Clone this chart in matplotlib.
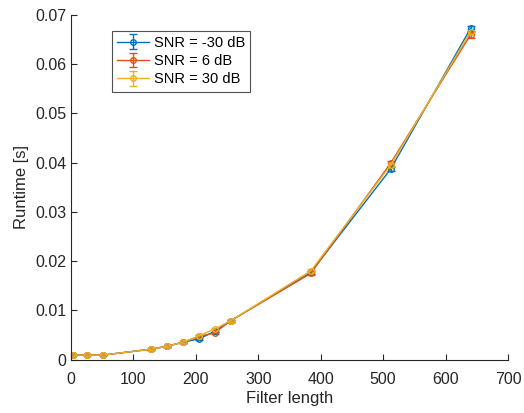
import matplotlib
matplotlib.use('Agg')

import numpy as np
import matplotlib.pyplot as plt

plt.rcParams['font.family'] = ['Liberation Sans', 'DejaVu Sans']

filter_length = [4, 26, 51, 128, 154, 179, 205, 230, 256, 384, 512, 640]

runtime_m30 = [0.0009, 0.0009, 0.0009, 0.0021, 0.0027, 0.0035, 0.0042, 0.0057,
               0.0079, 0.0177, 0.0387, 0.0673]
runtime_6 = [0.0009, 0.0009, 0.0009, 0.0021, 0.0027, 0.0035, 0.0047, 0.0054,
             0.0079, 0.0175, 0.0399, 0.0660]
runtime_30 = [0.0009, 0.0009, 0.0009, 0.0021, 0.0027, 0.0035, 0.0048, 0.0062,
              0.0079, 0.0180, 0.0395, 0.0666]

err_m30 = [0.00005, 0.00005, 0.00005, 0.0001, 0.0001, 0.0001, 0.0002, 0.0002,
           0.0002, 0.0003, 0.0004, 0.0005]
err_6 = [0.00005, 0.00005, 0.00005, 0.0001, 0.0001, 0.0001, 0.0002, 0.0002,
         0.0002, 0.0003, 0.0005, 0.0006]
err_30 = [0.00005, 0.00005, 0.00005, 0.0001, 0.0001, 0.0001, 0.0002, 0.0002,
          0.0002, 0.0003, 0.0004, 0.0005]

labels = ['SNR = -30 dB', 'SNR = 6 dB', 'SNR = 30 dB']
colors = ['#0072BD', '#D95319', '#EDB120']

fig = plt.figure(figsize=(5.24, 4.13), dpi=100)
ax = fig.add_axes([0.1355, 0.1295, 0.834, 0.834])

for y, e, c, lab in zip([runtime_m30, runtime_6, runtime_30],
                        [err_m30, err_6, err_30], colors, labels):
    ax.errorbar(filter_length, y, yerr=e, color=c, marker='o', markersize=4,
                markerfacecolor='none', markeredgewidth=1.0, linewidth=1.0,
                capsize=3, elinewidth=1.0, label=lab)

ax.set_xlim(0, 700)
ax.set_ylim(0, 0.07)
ax.set_xticks(np.arange(0, 701, 100))
ax.set_yticks(np.arange(0, 0.0701, 0.01))
ax.set_yticklabels(['0', '0.01', '0.02', '0.03', '0.04', '0.05', '0.06', '0.07'])

for s in ['top', 'right']:
    ax.spines[s].set_visible(False)
for s in ['left', 'bottom']:
    ax.spines[s].set_color('#262626')
    ax.spines[s].set_linewidth(0.8)
ax.tick_params(direction='in', length=4, width=0.8, colors='#262626',
               labelsize=11.5, labelcolor='#262626')
ax.tick_params(axis='x', pad=9)

ax.set_xlabel('Filter length', fontsize=12, color='#262626', labelpad=3)
ax.set_ylabel('Runtime [s]', fontsize=12, color='#262626', labelpad=4)

leg = ax.legend(loc='upper left', bbox_to_anchor=(0.094, 0.955), fontsize=10.5,
                frameon=True, fancybox=False, borderpad=0.35, labelspacing=0.3,
                handlelength=2.2, handletextpad=0.3, borderaxespad=0)
leg.get_frame().set_edgecolor('#262626')
leg.get_frame().set_linewidth(0.8)

fig.savefig('out.png', dpi=100)
